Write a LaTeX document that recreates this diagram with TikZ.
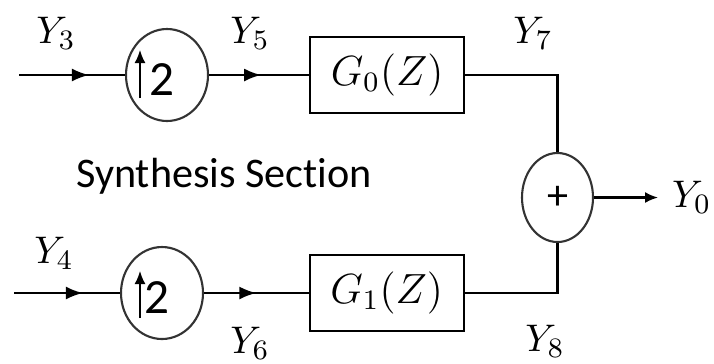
\documentclass[tikz,border=0pt]{standalone}
\usepackage{fontspec}
\setsansfont{Carlito}[Ligatures={NoCommon,NoRare}]
\usepackage{tikz}
\usetikzlibrary{shapes.geometric,arrows.meta,positioning,decorations.markings}
\usepackage{amsmath}

\begin{document}
\begin{tikzpicture}[
  line width=0.6pt,
  upsamp/.style={draw, ellipse, inner sep=0pt, minimum width=0.82cm, minimum height=0.92cm,
                 draw=black!80},
  adder/.style={draw, ellipse, inner sep=0pt, minimum width=0.71cm, minimum height=0.89cm,
                draw=black!80, font=\sffamily\fontsize{12}{14}\selectfont},
  blk/.style={draw, minimum width=1.54cm, minimum height=0.76cm, inner sep=0pt,
              font=\fontsize{11.5}{13}\selectfont},
  sig/.style={inner sep=0pt, font=\fontsize{11}{13}\selectfont},
  two/.style={inner sep=0pt, font=\sffamily\fontsize{14}{16}\selectfont},
  midarr/.style={postaction={decorate}, decoration={markings,
                 mark=at position #1 with {\arrow{Latex[length=1.7mm,width=1.3mm]}}}},
  arr/.style={-{Latex[length=1.3mm,width=1.1mm]}}
]
\useasboundingbox (0,0) rectangle (7.14,-3.63);

\node[upsamp] (up0) at (1.67,-0.75) {};
\node[blk, right=1.0cm of up0] (g0) {$G_0(Z)$};
\node[upsamp] (up1) at (1.62,-2.93) {};
\node[blk, right=1.045cm of up1] (g1) {$G_1(Z)$};
\node[adder] (sum) at (5.575,-1.975) {+};

\coordinate (in0) at (0.19,-0.75);
\coordinate (in1) at (0.14,-2.93);
\coordinate[right=0.64cm of sum] (out);

\node[two] (two0) at ([xshift=-0.05cm,yshift=-0.05cm]up0.center) {2};
\node[two] (two1) at ([xshift=-0.05cm,yshift=-0.05cm]up1.center) {2};
\draw[arr, line width=0.5pt] ([xshift=-0.27cm,yshift=-0.23cm]up0.center) -- ++(0,0.48);
\draw[arr, line width=0.5pt] ([xshift=-0.22cm,yshift=-0.25cm]up1.center) -- ++(0,0.47);

\draw[midarr=0.66] (in0) -- (up0);
\draw[midarr=0.52] (up0) -- (g0);
\draw[midarr=0.65] (in1) -- (up1);
\draw[midarr=0.50] (up1) -- (g1);
\draw (g0.east) -| (sum.north);
\draw (g1.east) -| (sum.south);
\draw[arr] (sum) -- (out);

\node[sig] (y3) at (0.56,-0.33) {$Y_3$};
\node[sig] (y5) at (2.50,-0.33) {$Y_5$};
\node[sig] (y7) at (5.33,-0.33) {$Y_7$};
\node[sig] (y4) at (0.54,-2.53) {$Y_4$};
\node[sig] (y6) at (2.50,-3.43) {$Y_6$};
\node[sig] (y8) at (5.45,-3.41) {$Y_8$};
\node[sig, right=0.13cm of out] (y0) {$Y_0$};

\node[font=\sffamily\fontsize{12}{14}\selectfont] (title) at (2.24,-1.76) {Synthesis Section};
\end{tikzpicture}
\end{document}
